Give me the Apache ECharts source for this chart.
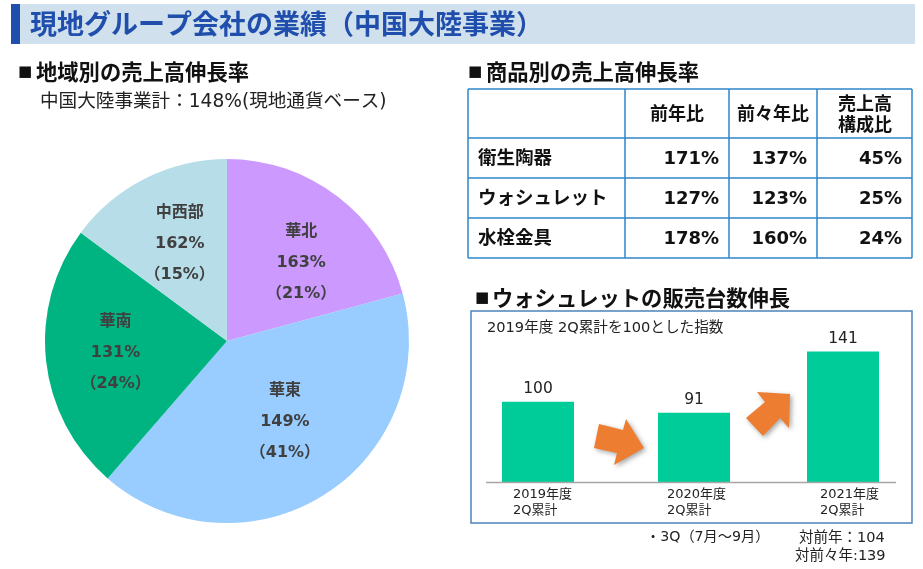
<!DOCTYPE html>
<html>
<head>
<meta charset="utf-8">
<style>
  html, body { margin: 0; padding: 0; background: #fff; }
  #chart { width: 923px; height: 569px; }
</style>
<script src="https://cdn.jsdelivr.net/npm/echarts@6/dist/echarts.min.js"></script>
</head>
<body>
<div id="chart"></div>
<script>
var regionNames = ['華北', '華東', '華南', '中西部'];
var regionShare = [21, 41, 24, 15];
var regionGrowth = [163, 149, 131, 162];
var regionColors = ['#CC99FF', '#99CCFF', '#00B482', '#B7DDE8'];

var productHeaders = ['前年比', '前々年比', '売上高\n構成比'];
var productNames = ['衛生陶器', 'ウォシュレット', '水栓金具'];
var productYoy = ['171%', '127%', '178%'];
var productTwoYear = ['137%', '123%', '160%'];
var productShare = ['45%', '25%', '24%'];

var unitYears = ['2019年度\n2Q累計', '2020年度\n2Q累計', '2021年度\n2Q累計'];
var unitIndex = [100, 91, 141];

var font = '"DejaVu Sans", "Noto Sans CJK JP", sans-serif';
var jpFont = '"Noto Sans CJK JP", sans-serif';

function txt(x, y, text, size, opts) {
    opts = opts || {};
    return {
        type: 'text', x: x, y: y, z: 10,
        style: {
            text: text,
            font: (opts.bold ? 'bold ' : '') + size + 'px ' + (opts.family || font),
            fill: opts.color || '#111',
            textAlign: opts.align || 'left',
            textVerticalAlign: 'middle',
            lineHeight: opts.lineHeight
        }
    };
}
function line(x1, y1, x2, y2, color, width) {
    return {
        type: 'line', z: 9,
        shape: { x1: x1, y1: y1, x2: x2, y2: y2 },
        style: { stroke: color, lineWidth: width }
    };
}
function arrow(points) {
    return {
        type: 'polygon', z: 8,
        shape: { points: points },
        style: { fill: '#ED7D31', shadowBlur: 5, shadowColor: 'rgba(0,0,0,0.35)', shadowOffsetX: 2, shadowOffsetY: 2 }
    };
}
function heading(x, textX, y, text) {
    return [
        txt(x, y, '■', 15, { family: font, color: '#111' }),
        txt(textX, y, text, 21.3, { bold: true, family: jpFont })
    ];
}

// header band and section headings
var graphics = [
    { type: 'rect', shape: { x: 11, y: 4, width: 904, height: 40 }, style: { fill: '#D0E0EC' } },
    { type: 'rect', shape: { x: 11, y: 4, width: 9, height: 40 }, style: { fill: '#1F4EAD' } },
    txt(30, 24, '現地グループ会社の業績（中国大陸事業）', 27, { bold: true, color: '#1F4EAD', family: jpFont }),
    txt(40, 102, '中国大陸事業計：148%(現地通貨ベース)', 18.6, { color: '#222' })
].concat(
    heading(18, 36, 72, '地域別の売上高伸長率'),
    heading(468, 486, 72, '商品別の売上高伸長率'),
    heading(475, 492, 298, 'ウォシュレットの販売台数伸長')
);

// product table
var tableColor = '#2E86C8';
var colX = [468, 625, 729, 817, 912];
var rowY = [89, 138, 178, 218, 258];
colX.forEach(function (x) { graphics.push(line(x, 89, x, 258, tableColor, 1.5)); });
rowY.forEach(function (y) { graphics.push(line(468, y, 912, y, tableColor, 1.5)); });
var headerX = [677, 773, 865];
productHeaders.forEach(function (h, i) {
    graphics.push(txt(headerX[i], h.indexOf('\n') < 0 ? 113 : 114, h, 18, { bold: true, align: 'center', family: jpFont, lineHeight: 21 }));
});
var valueX = [719, 807, 902];
productNames.forEach(function (name, i) {
    var y = (rowY[i + 1] + rowY[i + 2]) / 2;
    graphics.push(txt(478, y - 1.5, name, 18.5, { bold: true, family: jpFont }));
    graphics.push(txt(valueX[0], y + 1, productYoy[i], 18, { bold: true, align: 'right' }));
    graphics.push(txt(valueX[1], y + 1, productTwoYear[i], 18, { bold: true, align: 'right' }));
    graphics.push(txt(valueX[2], y + 1, productShare[i], 18, { bold: true, align: 'right' }));
});

// frame, baseline, arrows and notes of the bar panel
graphics.push({
    type: 'rect', z: 1,
    shape: { x: 471, y: 311, width: 441, height: 212 },
    style: { fill: 'none', stroke: '#4F81BD', lineWidth: 1.5 }
});
graphics.push(line(486, 482.5, 896, 482.5, '#A6A6A6', 1.5));
graphics.push(txt(487, 328, '2019年度 2Q累計を100とした指数', 14.6, { color: '#222' }));
graphics.push(arrow([[599, 424], [623, 430], [626, 419], [644, 448], [614, 465], [617, 453], [594, 448]]));
graphics.push(arrow([[746, 418], [765, 402], [757, 392], [790, 394], [789, 428], [780, 418], [763, 436]]));
graphics.push(txt(646, 537, '・3Q（7月～9月）', 14.2, { color: '#222' }));
graphics.push(txt(799, 538, '対前年：104', 14.5, { color: '#222' }));
graphics.push(txt(795, 556, '対前々年:139', 14.5, { color: '#222' }));

// offsets from the default inside position of each pie label
var labelNudge = [[17, -4], [8, 1], [-18, 2], [-5, -13]];

var series = [{
    type: 'pie',
    center: [227, 341],
    radius: 182,
    startAngle: 90,
    clockwise: true,
    animation: false,
    silent: true,
    label: {
        position: 'inside',
        color: '#404040',
        fontFamily: font,
        fontWeight: 'bold',
        fontSize: 16,
        lineHeight: 31,
        formatter: function (p) {
            return p.name + '\n' + regionGrowth[p.dataIndex] + '%\n（' + p.value + '%）';
        }
    },
    labelLine: { show: false },
    labelLayout: function (p) {
        return { dx: labelNudge[p.dataIndex][0], dy: labelNudge[p.dataIndex][1] };
    },
    data: regionNames.map(function (n, i) {
        return { name: n, value: regionShare[i], itemStyle: { color: regionColors[i] } };
    })
}];

// one grid per bar, the panel spaces them unevenly; shared hidden value range
var barCenters = [538, 694, 843];
var labelBoxWidth = [50, 54, 46];
var grids = [], xAxes = [], yAxes = [];
unitYears.forEach(function (year, i) {
    grids.push({ left: barCenters[i] - 50, width: 100, top: 322, height: 160.5 });
    xAxes.push({
        type: 'category', gridIndex: i, data: [year],
        axisLine: { show: false }, axisTick: { show: false },
        axisLabel: {
            margin: 4,
            interval: 0,
            formatter: function (v) {
                return v.split('\n').map(function (s) { return '{a|' + s + '}'; }).join('\n');
            },
            rich: {
                a: { width: labelBoxWidth[i], align: 'left', fontSize: 13, lineHeight: 16, color: '#222', fontFamily: font }
            }
        }
    });
    yAxes.push({ type: 'value', gridIndex: i, min: 34, max: 165, show: false });
    series.push({
        type: 'bar', xAxisIndex: i, yAxisIndex: i,
        data: [unitIndex[i]],
        barWidth: 72,
        animation: false,
        silent: true,
        itemStyle: { color: '#00CC99' },
        label: { show: true, position: 'top', distance: 5, fontSize: 15.5, color: '#222', fontFamily: font }
    });
});

var myChart = echarts.init(document.getElementById('chart'));
myChart.setOption({
    backgroundColor: '#fff',
    animation: false,
    grid: grids,
    xAxis: xAxes,
    yAxis: yAxes,
    series: series,
    graphic: graphics
});
</script>
</body>
</html>
